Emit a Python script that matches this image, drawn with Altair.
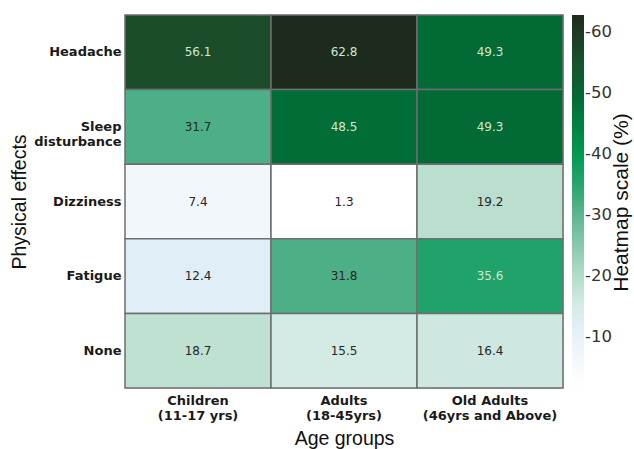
import altair as alt
import pandas as pd

# ---- data ----
age_groups = ["Children\n(11-17 yrs)", "Adults\n(18-45yrs)", "Old Adults\n(46yrs and Above)"]
effects = ["Headache", "Sleep\ndisturbance", "Dizziness", "Fatigue", "None"]
children = [56.1, 31.7, 7.4, 12.4, 18.7]
adults = [62.8, 48.5, 1.3, 31.8, 15.5]
old_adults = [49.3, 49.3, 19.2, 35.6, 16.4]
legend_ticks = [10, 20, 30, 40, 50, 60]
legend_title = "Heatmap scale (%)"

rows = []
for grp, vals in zip(age_groups, [children, adults, old_adults]):
    for eff, v in zip(effects, vals):
        rows.append({"group": grp, "effect": eff, "value": v})
df = pd.DataFrame(rows)

# ---- colour scale (style) ----
stops = [1.3, 7.4, 12.4, 15.5, 19.0, 31.7, 35.6, 40.0, 49.0, 56.1, 62.8]
colors = ["#ffffff", "#f2f7fc", "#dfeef7", "#d4eae5", "#bde0d0", "#4daf87",
          "#1fa36a", "#009a4e", "#006b35", "#1b4d2b", "#1c2b1d"]

x_enc = alt.X("group:N", sort=age_groups, scale=alt.Scale(paddingInner=0, paddingOuter=0),
              axis=alt.Axis(title="Age groups", labelAngle=0, ticks=False, domain=False,
                            labelFont="DejaVu Sans", labelFontWeight="bold", labelFontSize=13,
                            labelColor="#1a1a1a", labelPadding=6, labelLineHeight=15,
                            labelExpr="split(datum.label, '\\n')",
                            titleFont="Liberation Sans", titleFontSize=19.5,
                            titleFontWeight="normal", titleColor="#111111",
                            titleBaseline="alphabetic", titleY=56))
y_enc = alt.Y("effect:N", sort=effects, scale=alt.Scale(paddingInner=0, paddingOuter=0),
              axis=alt.Axis(title="Physical effects", ticks=False, domain=False,
                            labelFont="DejaVu Sans", labelFontWeight="bold", labelFontSize=13,
                            labelColor="#1a1a1a", labelPadding=4, labelLineHeight=15,
                            labelAlign="right", labelBaseline="middle",
                            labelExpr="split(datum.label, '\\n')",
                            titleFont="Liberation Sans", titleFontSize=19.5,
                            titleFontWeight="normal", titleColor="#111111",
                            titleX=-106, titleY=186.5, titleAngle=270,
                            titleAlign="center", titleBaseline="middle"))

rect = alt.Chart(df).mark_rect(stroke="#6e6e6e", strokeWidth=1.5).encode(
    x=x_enc,
    y=y_enc,
    color=alt.Color("value:Q",
                    scale=alt.Scale(type="linear", domain=stops, range=colors, interpolate="rgb"),
                    legend=alt.Legend(title=None, orient="right", direction="vertical",
                                      values=legend_ticks, offset=9, padding=0,
                                      gradientLength=375, gradientThickness=12,
                                      gradientStrokeWidth=0,
                                      labelFont="DejaVu Sans", labelFontSize=16.5,
                                      labelColor="#333333", labelOffset=1,
                                      labelExpr="'-' + datum.label")),
)

text = alt.Chart(df).mark_text(font="DejaVu Sans", fontSize=12).encode(
    x=alt.X("group:N", sort=age_groups),
    y=alt.Y("effect:N", sort=effects),
    text=alt.Text("value:Q", format=".1f"),
    color=alt.condition(alt.datum.value > 33, alt.value("#d3e6d2"), alt.value("#262626")),
)

title_df = pd.DataFrame({"t": [legend_title]})
legend_title_mark = alt.Chart(title_df).mark_text(
    angle=270, font="Liberation Sans", fontSize=21, color="#111111",
    align="center", baseline="middle"
).encode(text="t:N", x=alt.value(497), y=alt.value(187.5))

chart = (rect + text + legend_title_mark).properties(
    width=438, height=373,
    autosize=alt.AutoSizeParams(type="none"),
    padding={"left": 125, "top": 15, "right": 71, "bottom": 61},
).configure_view(stroke=None).configure(background="white")

chart.save("out.html", embed_options={"renderer": "svg", "actions": False})
